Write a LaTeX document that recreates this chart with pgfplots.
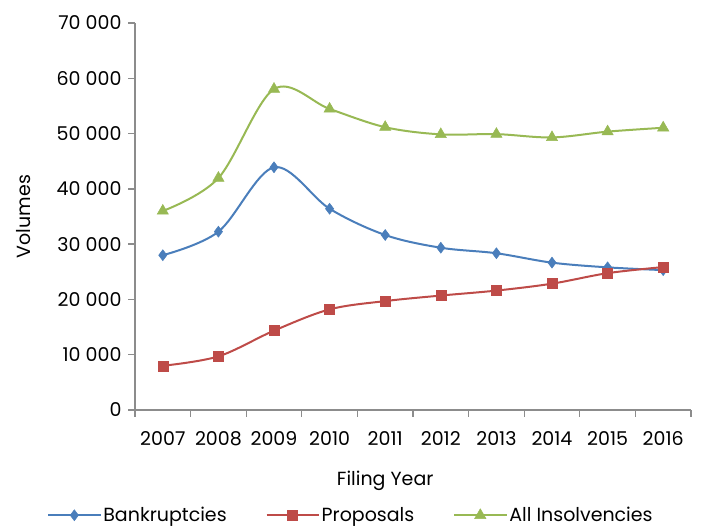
\documentclass[border=0pt]{standalone}
\usepackage{fontspec}
\setmainfont{Poppins}
\usepackage{pgfplots}
\pgfplotsset{compat=1.18}

\definecolor{bkblue}{HTML}{4A7EBB}
\definecolor{prred}{HTML}{BE4B48}
\definecolor{insgreen}{HTML}{98B954}
\definecolor{axgray}{HTML}{8C8C8C}

\newcommand{\chartfont}{\fontsize{19}{23}\selectfont}

\begin{document}
\begin{tikzpicture}
\path[use as bounding box] (0pt,0pt) rectangle (704pt,529pt);
\begin{axis}[
  at={(135pt,119pt)}, anchor=south west,
  scale only axis, width=556pt, height=387pt,
  xmin=0, xmax=10, ymin=0, ymax=70000,
  scaled y ticks=false,
  axis lines*=left,
  axis line style={axgray, line width=1.3pt},
  tick style={axgray, line width=1.3pt},
  tick align=outside,
  major tick length=7pt,
  xtick={0,1,...,10}, xticklabels={},
  extra x ticks={0.5,1.5,...,9.5},
  extra x tick labels={2007,2008,2009,2010,2011,2012,2013,2014,2015,2016},
  extra x tick style={major tick length=0pt, tick style={draw=none}},
  ytick={0,10000,...,70000},
  yticklabels={0,10 000,20 000,30 000,40 000,50 000,60 000,70 000},
  every tick label/.append style={font=\chartfont, text=black},
  xticklabel style={yshift=-18pt},
  yticklabel style={xshift=-3pt},
  xlabel={Filing Year},
  ylabel={Volumes},
  label style={font=\chartfont},
  xlabel style={at={(axis description cs:0.45,-0.183)}, anchor=center},
  ylabel style={at={(axis description cs:-0.2,0.5)}, anchor=center},
  legend columns=3,
  legend style={draw=none, fill=none, font=\chartfont,
    at={(axis description cs:-0.158,-0.272)}, anchor=west,
    /tikz/every even column/.append style={column sep=37pt},
    inner sep=0pt},
  legend image code/.code={%
    \draw[mark repeat=2, mark phase=2] plot coordinates {(0pt,0pt) (26pt,0pt) (52pt,0pt)};},
  every axis plot/.append style={line width=2pt, smooth, tension=0.55},
]
\addplot[color=bkblue, mark=diamond*, mark size=5.5pt,
  mark options={solid, fill=bkblue, draw=bkblue, line width=0.5pt}]
  coordinates {(0.5,28000) (1.5,32250) (2.5,43900) (3.5,36400) (4.5,31650)
               (5.5,29350) (6.5,28350) (7.5,26650) (8.5,25800) (9.5,25300)};
\addlegendentry{Bankruptcies}
\addplot[color=prred, mark=square*, mark size=5pt,
  mark options={solid, fill=prred, draw=prred, line width=0.5pt}]
  coordinates {(0.5,8000) (1.5,9700) (2.5,14350) (3.5,18200) (4.5,19700)
               (5.5,20700) (6.5,21600) (7.5,22850) (8.5,24750) (9.5,25850)};
\addlegendentry{Proposals}
\addplot[color=insgreen, mark=triangle*, mark size=6.5pt,
  mark options={solid, fill=insgreen, draw=insgreen, line width=0.5pt}]
  coordinates {(0.5,36000) (1.5,41950) (2.5,58050) (3.5,54450) (4.5,51150)
               (5.5,49850) (6.5,49900) (7.5,49300) (8.5,50350) (9.5,51050)};
\addlegendentry{All Insolvencies}
\end{axis}
\end{tikzpicture}
\end{document}
